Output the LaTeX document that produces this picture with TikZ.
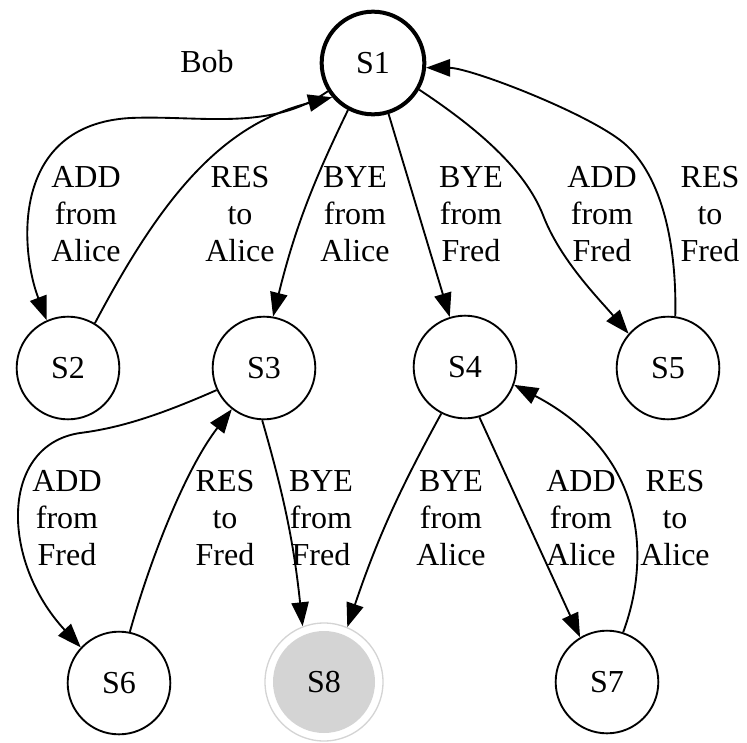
\documentclass[tikz,border=0pt]{standalone}
\usepackage{fontspec}
\setmainfont{LiberationSerif}[Extension=.ttf, UprightFont=*-Regular]
\usetikzlibrary{arrows.meta}

\begin{document}
\begin{tikzpicture}[x=0.75pt, y=-0.75pt, line width=1.4pt,
    every node/.style={font=\fontsize{24}{27.75}\selectfont},
    state/.style={circle, draw, line width=1.4pt, minimum size=77pt, inner sep=0pt},
    lbl/.style={align=center, inner sep=0pt},
    >={Triangle[length=18pt, width=13pt]}]
  \useasboundingbox (0,0) rectangle (747,743);
  \node (bob) at (207,62) {Bob};
  \node[state, line width=3pt] (S1) at (373,63) {S1};
  \node[state] (S2) at (68,368) {S2};
  \node[state] (S3) at (264,368) {S3};
  \node[state] (S4) at (465,367) {S4};
  \node[state] (S5) at (668,368) {S5};
  \node[state] (S6) at (119,683) {S6};
  \node[state] (S7) at (607,682) {S7};
  \node[state, draw=black!17, line width=1pt, minimum size=88.5pt,
    path picture={\fill[black!17] (path picture bounding box.center) circle (38.25pt);}] (S8) at (324,682) {S8};
  \draw[->] (S1.212) .. controls (270,132) and (200,115) .. (130,118) .. controls (10,125) and (20,250) .. (S2.114);
  \draw[->] (S2.59) .. controls (160,200) and (220,125) .. (S1.220);
  \draw[->] (S1.242) to[bend right=6] (S3.80);
  \draw[->] (S1.287) -- (S4.107);
  \draw[->] (S1.330) .. controls (480,130) and (525,170) .. (543,215) .. controls (560,260) and (600,300) .. (S5.139);
  \draw[->] (S5.82) .. controls (677,240) and (660,170) .. (620,140) .. controls (580,110) and (470,68) .. (S1.355);
  \draw[->] (S3.205) .. controls (160,415) and (120,428) .. (80,433) .. controls (0,445) and (0,560) .. (S6.137);
  \draw[->] (S6.78) .. controls (150,560) and (185,470) .. (S3.232);
  \draw[->] (S3.268) to[bend left=5] (S8.111);
  \draw[->] (S4.243) to[bend right=5] (S8.67);
  \draw[->] (S4.286) -- (S7.121);
  \draw[->] (S7.72) .. controls (650,560) and (648,455) .. (S4.340);
  \node[lbl] (t12) at (86,214) {ADD\\from\\Alice};
  \node[lbl] (t21) at (240,214) {RES\\to\\Alice};
  \node[lbl] (t13) at (355,214) {BYE\\from\\Alice};
  \node[lbl] (t14) at (471,214) {BYE\\from\\Fred};
  \node[lbl] (t15) at (602,214) {ADD\\from\\Fred};
  \node[lbl] (t51) at (710,214) {RES\\to\\Fred};
  \node[lbl] (t36) at (67,518) {ADD\\from\\Fred};
  \node[lbl] (t63) at (225,518) {RES\\to\\Fred};
  \node[lbl] (t38) at (321,518) {BYE\\from\\Fred};
  \node[lbl] (t48) at (451,518) {BYE\\from\\Alice};
  \node[lbl] (t47) at (581,518) {ADD\\from\\Alice};
  \node[lbl] (t74) at (675,518) {RES\\to\\Alice};
\end{tikzpicture}
\end{document}
